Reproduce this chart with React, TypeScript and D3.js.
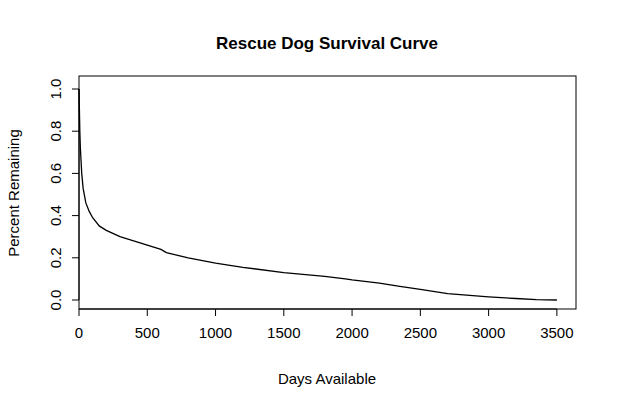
import React from "react";
import * as d3 from "d3";

const days = [0, 3, 6, 10, 20, 30, 50, 75, 100, 150, 200, 300, 400, 500, 600, 640, 700, 800, 1000, 1200, 1500, 1800, 1950, 2000, 2200, 2350, 2500, 2700, 3000, 3200, 3350, 3500];
const remaining = [1, 0.9, 0.8, 0.72, 0.6, 0.53, 0.46, 0.42, 0.39, 0.35, 0.33, 0.3, 0.28, 0.26, 0.24, 0.225, 0.215, 0.2, 0.175, 0.155, 0.13, 0.112, 0.1, 0.095, 0.08, 0.065, 0.05, 0.03, 0.015, 0.007, 0.002, 0];
const xTicks = [0, 500, 1000, 1500, 2000, 2500, 3000, 3500];
const yTicks = [0, 0.2, 0.4, 0.6, 0.8, 1.0];

export default function App() {
  const W = 617, H = 407;
  const L = 79, R = 576, T = 76, B = 309;
  const x = d3.scaleLinear().domain([0, 3640]).range([L, R]);
  const y = d3.scaleLinear().domain([0, 1]).range([300, 89]);
  const line = d3.line<number>().x((_, i) => x(days[i])).y((d) => y(d));
  const font = "Liberation Sans, Arial, sans-serif";
  return (
    <svg width={W} height={H} style={{ position: "absolute", left: 0, top: 0, background: "#fff" }} fontFamily={font}>
      <rect x={0} y={0} width={W} height={H} fill="#fff" />
      <text x={327} y={49} textAnchor="middle" fontSize={17} fontWeight="bold">Rescue Dog Survival Curve</text>
      <rect x={L} y={T} width={R - L} height={B - T} fill="none" stroke="#000" />
      <path d={line(remaining) || ""} fill="none" stroke="#000" strokeWidth={1.3} />
      <line x1={x(0)} x2={x(3500)} y1={B} y2={B} stroke="#000" />
      {xTicks.map((t) => (
        <g key={t}>
          <line x1={x(t)} x2={x(t)} y1={B} y2={B + 7} stroke="#000" />
          <text x={x(t)} y={B + 29} textAnchor="middle" fontSize={15}>{t}</text>
        </g>
      ))}
      <line x1={L} x2={L} y1={y(0)} y2={y(1)} stroke="#000" />
      {yTicks.map((t) => (
        <g key={t}>
          <line x1={L - 7} x2={L} y1={y(t)} y2={y(t)} stroke="#000" />
          <text transform={`translate(${L - 18},${y(t)}) rotate(-90)`} textAnchor="middle" fontSize={15}>{t.toFixed(1)}</text>
        </g>
      ))}
      <text x={327} y={384} textAnchor="middle" fontSize={15}>Days Available</text>
      <text transform={`translate(19,193) rotate(-90)`} textAnchor="middle" fontSize={15}>Percent Remaining</text>
    </svg>
  );
}
